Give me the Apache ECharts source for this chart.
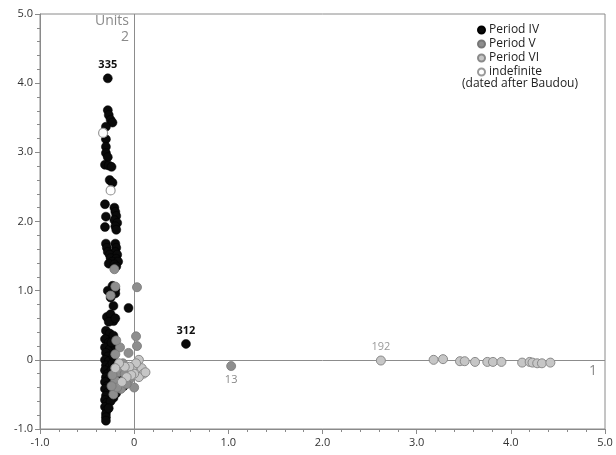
<!DOCTYPE html>
<html><head><meta charset="utf-8">
<script src="https://cdn.jsdelivr.net/npm/echarts@6/dist/echarts.min.js"></script>
<style>html,body{margin:0;padding:0;background:#fff}#c{width:616px;height:455px}</style>
</head><body><div id="c"></div>
<script>
// ---- data ----
const xTicks = [-1, 0, 1, 2, 3, 4, 5];
const yTicks = [-1, 0, 1, 2, 3, 4, 5];
const seriesNames = ['Period IV', 'Period V', 'Period VI', 'indefinite'];
const periodIV = [
  [-0.28,3.61],[-0.27,3.54],[-0.25,3.47],[-0.23,3.43],[-0.30,3.37],[-0.30,3.19],[-0.30,3.08],[-0.30,2.99],
  [-0.28,2.93],[-0.31,2.82],[-0.27,2.81],[-0.24,2.79],[-0.26,2.60],[-0.23,2.56],[-0.31,2.25],
  [-0.21,2.20],[-0.20,2.14],[-0.19,2.08],[-0.21,2.02],[-0.18,1.98],[-0.20,1.93],[-0.19,1.88],[-0.30,2.07],[-0.31,1.92],
  [-0.30,1.68],[-0.20,1.68],[-0.29,1.62],[-0.19,1.62],[-0.28,1.56],[-0.20,1.56],[-0.26,1.52],[-0.18,1.52],
  [-0.25,1.47],[-0.19,1.46],[-0.23,1.42],[-0.17,1.42],[-0.27,1.39],[-0.21,1.38],[-0.19,1.35],
  [-0.23,1.07],[-0.28,1.00],[-0.20,1.02],[-0.25,0.90],[-0.20,0.96],[-0.22,0.78],[-0.06,0.75],
  [-0.29,0.62],[-0.25,0.66],[-0.22,0.56],[-0.27,0.55],[-0.20,0.60],
  [-0.30,0.42],[-0.26,0.38],[-0.22,0.35],[-0.31,0.30],[-0.27,0.25],[-0.31,0.18],[-0.26,0.15],[-0.30,0.10],
  [-0.28,0.05],[-0.31,0.00],[-0.27,-0.02],[-0.30,-0.08],[-0.26,-0.10],[-0.31,-0.15],[-0.28,-0.20],[-0.30,-0.25],
  [-0.27,-0.28],[-0.31,-0.32],[-0.29,-0.38],[-0.31,-0.42],[-0.28,-0.47],[-0.30,-0.52],[-0.31,-0.58],[-0.29,-0.62],
  [-0.31,-0.68],[-0.29,-0.72],[-0.30,-0.78],[-0.30,-0.83],[-0.30,-0.88],
  [-0.21,-0.25],[-0.16,-0.22],[-0.13,-0.30],[-0.18,-0.35],[-0.20,-0.45],[-0.22,-0.55],[-0.25,-0.60],[-0.19,-0.48],
  [-0.24,-0.15],[-0.22,0.05],[-0.23,-0.05],[-0.20,0.20],[-0.24,0.25],[-0.17,-0.12],[-0.11,-0.38],[-0.27,-0.70]
];
const periodV = [
  [0.03,1.05],[-0.21,1.31],[-0.20,1.06],[-0.25,0.93],[0.02,0.34],[0.03,0.20],[-0.15,0.18],[-0.20,0.08],
  [-0.12,-0.05],[-0.06,0.10],[-0.17,-0.18],[-0.10,-0.20],[-0.20,-0.30],[-0.14,-0.42],[-0.22,-0.50],
  [-0.18,-0.40],[-0.05,-0.28],[0.00,-0.40],[-0.08,-0.35],[-0.24,-0.38],[-0.19,0.28],[-0.23,-0.22]
];
const periodVI = [
  [0.05,0.00],[0.08,-0.12],[0.10,-0.20],[0.02,-0.05],[-0.02,-0.15],[0.05,-0.25],[0.00,-0.20],[-0.05,-0.10],
  [-0.03,-0.22],[0.12,-0.18],[-0.10,-0.10],[-0.08,-0.25],[-0.13,-0.32],[-0.16,-0.05],[-0.20,-0.12],
  [3.18,0.00],[3.28,0.01],[3.46,-0.02],[3.51,-0.02],[3.62,-0.03],[3.75,-0.03],[3.81,-0.03],[3.90,-0.03],
  [4.12,-0.04],[4.20,-0.03],[4.23,-0.04],[4.28,-0.05],[4.33,-0.05],[4.42,-0.04]
];
const indefinite = [[-0.33,3.28],[-0.25,2.45]];
// labelled points: [series index, text, x, y, label position]
const labelledPoints = [
  [0, '335', -0.28, 4.07, 'top'],
  [0, '312', 0.55, 0.23, 'top'],
  [1, '13', 1.03, -0.09, 'bottom'],
  [2, '192', 2.62, -0.01, 'top']
];
const noteText = '(dated after Baudou)';
const unitsText = ['Units', '2'];
const axisOneText = '1';

// ---- chart ----
const styles = [
  {color:'#0a0a0a', borderColor:'#000', borderWidth:0.5, opacity:1},
  {color:'#8e8e8e', borderColor:'#777', borderWidth:0.8, opacity:1},
  {color:'#c6c6c6', borderColor:'#8a8a8a', borderWidth:1, opacity:1},
  {color:'#ffffff', borderColor:'#9a9a9a', borderWidth:1.2, opacity:1}
];
const zOrder = [5, 6, 7, 8];
const labelColors = ['#111', '#888', '#999', '#999'];
const raw = [periodIV, periodV, periodVI, indefinite];
const series = raw.map((pts, i) => {
  const data = pts.map(p => ({value: p}));
  labelledPoints.filter(l => l[0] === i).forEach(l => {
    data.push({value:[l[2], l[3]], label:{show:true, formatter:l[1], position:l[4], distance:3,
      color:labelColors[i], fontWeight: i === 0 ? 'bold' : 'normal', fontSize:11, fontFamily:'Open Sans'}});
  });
  return {
    name: seriesNames[i], type:'scatter', symbol:'circle', symbolSize:9,
    itemStyle: styles[i], data: data, z: zOrder[i],
    emphasis:{disabled:true}
  };
});
series.push({
  type:'scatter', data:[], silent:true, z:2,
  markLine:{silent:true, symbol:'none', animation:false,
    lineStyle:{color:'#8c8c8c', width:1, type:'solid'},
    label:{show:false},
    data:[{xAxis:0}, {yAxis:0}]}
});
const fmt = v => v === 0 ? '0' : v.toFixed(1);
const axisCommon = {
  type:'value', min:-1, max:5, interval:1,
  axisLine:{show:true, onZero:false, lineStyle:{color:'#8a8a8a', width:1}},
  axisTick:{show:true, length:5, lineStyle:{color:'#8a8a8a'}},
  minorTick:{show:true, splitNumber:5, length:3, lineStyle:{color:'#8a8a8a'}},
  splitLine:{show:false},
  axisLabel:{formatter:fmt, color:'#333', fontSize:11, fontFamily:'Open Sans', margin:7}
};
const chart = echarts.init(document.getElementById('c'), null, {renderer:'canvas'});
chart.setOption({
  animation:false,
  backgroundColor:'#fff',
  grid:{left:40, right:11, top:14, bottom:26, show:true, borderColor:'#8a8a8a', borderWidth:1},
  xAxis: Object.assign({}, axisCommon, {axisLabel:Object.assign({}, axisCommon.axisLabel, {margin:8})}),
  yAxis: Object.assign({}, axisCommon),
  legend:{
    data: seriesNames, orient:'vertical', left:472, top:19, icon:'circle',
    itemWidth:7, itemHeight:7, itemGap:2,
    textStyle:{fontSize:12, color:'#222', fontFamily:'Open Sans', padding:[0,0,0,-1]},
    selectedMode:false
  },
  graphic:[
    {type:'text', left:462, top:78, style:{text:noteText, fontSize:12, fill:'#222', fontFamily:'Open Sans'}},
    {type:'text', right:616-129, top:14, style:{text:unitsText[0], fontSize:14, fill:'#8a8a8a', fontFamily:'Open Sans', textAlign:'right'}},
    {type:'text', right:616-129, top:30, style:{text:unitsText[1], fontSize:14, fill:'#8a8a8a', fontFamily:'Open Sans', textAlign:'right'}},
    {type:'text', left:589, top:364, style:{text:axisOneText, fontSize:14, fill:'#8a8a8a', fontFamily:'Open Sans'}}
  ],
  series: series
});
</script></body></html>
